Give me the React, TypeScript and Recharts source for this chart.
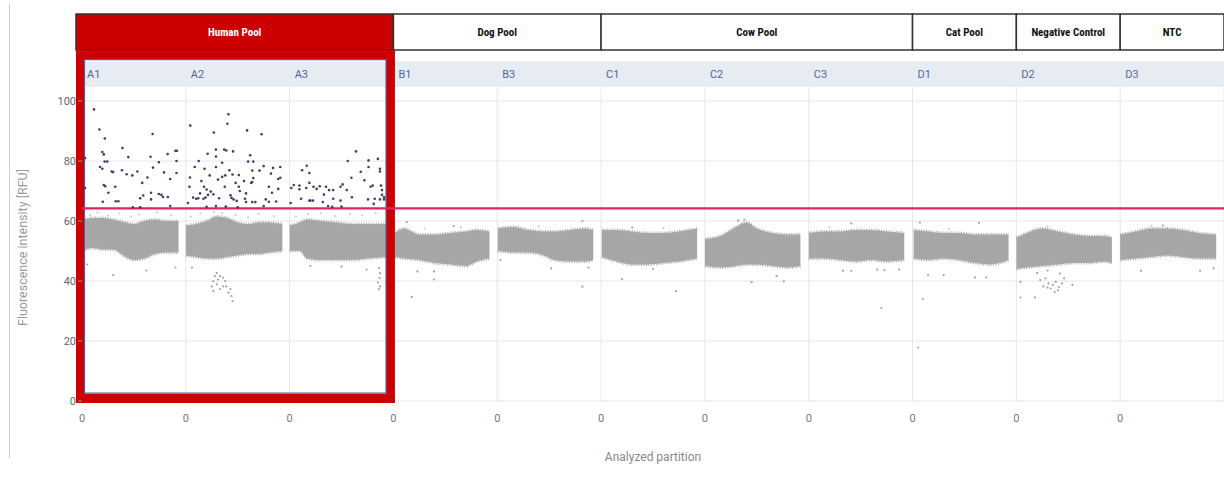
import React from 'react';
import {
  ComposedChart, Area, Scatter, XAxis, YAxis, CartesianGrid,
  ReferenceArea, ReferenceLine,
} from 'recharts';

// wells in plate order, one column per well
const WELLS = ['A1', 'A2', 'A3', 'B1', 'B3', 'C1', 'C2', 'C3', 'D1', 'D2', 'D3'];

const POOLS = [
  { name: 'Human Pool', from: 0, to: 3, selected: true },
  { name: 'Dog Pool', from: 3, to: 5 },
  { name: 'Cow Pool', from: 5, to: 8 },
  { name: 'Cat Pool', from: 8, to: 9 },
  { name: 'Negative Control', from: 9, to: 10 },
  { name: 'NTC', from: 10, to: 11 },
];

const THRESHOLD = 64.2;
const Y_TICKS = [0, 20, 40, 60, 80, 100];
const X_TICKS = [0, 1, 2, 3, 4, 5, 6, 7, 8, 9, 10];

// negative droplet cloud per well: [position in well, low RFU, high RFU]
const BAND_A1 = [[0.03, 50.5, 60.5], [0.1, 51, 61], [0.2, 50.5, 61], [0.3, 50.5, 60.5], [0.42, 48, 59.5], [0.5, 47, 59], [0.6, 47.5, 60], [0.7, 49, 60.5], [0.8, 49.5, 60], [0.93, 49.5, 60]];
const BAND_A2 = [[0.0, 48.5, 58.5], [0.1, 48, 59], [0.2, 47.5, 60], [0.3, 47.5, 61.5], [0.4, 48, 61], [0.5, 48.5, 59.5], [0.6, 49, 59], [0.7, 49, 59.5], [0.8, 49.5, 59.5], [0.93, 50, 59]];
const BAND_A3 = [[0.0, 50, 58.5], [0.1, 50, 59.5], [0.17, 47.5, 60.5], [0.3, 47, 60], [0.45, 47, 59.5], [0.6, 47, 59], [0.75, 47.5, 59], [0.93, 48, 59]];
const BAND_B1 = [[0.015, 48, 56], [0.1, 47.5, 57.5], [0.25, 47, 55.5], [0.4, 46, 55.5], [0.55, 45.5, 56], [0.7, 45, 56.5], [0.8, 46.5, 57], [0.925, 47.5, 56.5]];
const BAND_B3 = [[0.005, 50, 57.5], [0.15, 49.5, 58], [0.3, 49.5, 57], [0.45, 48.5, 56.5], [0.55, 47, 56.5], [0.7, 46.5, 57], [0.85, 46.5, 57.5], [0.925, 47, 57]];
const BAND_C1 = [[0.007, 48, 57], [0.15, 46.5, 57], [0.3, 45.5, 56.5], [0.45, 45.5, 56], [0.6, 46, 56], [0.75, 46.5, 56.5], [0.925, 47.5, 57.5]];
const BAND_C2 = [[0.0, 45, 54], [0.15, 44.5, 55], [0.3, 45, 58], [0.4, 45.5, 59.5], [0.5, 45.5, 57.5], [0.65, 45, 56], [0.8, 44.5, 55.5], [0.92, 45, 55.5]];
const BAND_C3 = [[0.0, 47.5, 56], [0.15, 47.5, 56.5], [0.3, 47, 56.5], [0.45, 46.5, 57], [0.6, 47, 57], [0.75, 46.5, 56.5], [0.92, 47, 56]];
const BAND_D1 = [[0.01, 47.5, 57], [0.15, 47, 56.5], [0.3, 47.5, 56], [0.45, 47, 56], [0.6, 46, 55.5], [0.75, 45.5, 55.5], [0.925, 47, 55.5]];
const BAND_D2 = [[0.0, 44, 54.5], [0.1, 44.5, 56], [0.25, 45, 57.5], [0.4, 45.5, 56.5], [0.55, 46, 55.5], [0.7, 46, 55], [0.85, 46.5, 55], [0.92, 46, 54.5]];
const BAND_D3 = [[0.0, 47, 55.5], [0.15, 47.5, 56.5], [0.3, 48, 57.5], [0.45, 48.5, 57.5], [0.6, 48, 57], [0.75, 47.5, 56], [0.925, 47.5, 55.5]];
const BANDS = [BAND_A1, BAND_A2, BAND_A3, BAND_B1, BAND_B3, BAND_C1, BAND_C2, BAND_C3, BAND_D1, BAND_D2, BAND_D3];

// positive droplets: [position in well, RFU]
const POS_A1 = [
  [0.116, 97.2], [0.167, 90.5], [0.22, 87.5], [0.68, 89], [0.39, 84.3], [0.196, 83], [0.21, 82.2],
  [0.446, 81.3], [0.825, 82.3], [0.9, 83.4], [0.915, 83.4], [0.66, 81.4], [0.218, 79.8], [0.244, 79.8],
  [0.74, 79.6], [0.91, 80], [0.173, 78], [0.196, 77.4], [0.684, 77.8], [0.286, 76.5], [0.3, 76.3],
  [0.385, 76.9], [0.43, 75.6], [0.485, 75.2], [0.533, 76.5], [0.79, 76.2], [0.91, 76], [0.85, 74],
  [0.63, 74.5], [0.58, 72.7], [0.21, 72], [0.224, 71.6], [0.32, 71.4], [0.254, 69.4], [0.665, 69.4],
  [0.74, 69], [0.765, 68.7], [0.59, 68.5], [0.56, 67.6], [0.78, 68], [0.827, 68], [0.665, 67.2],
  [0.2, 66.4], [0.325, 66.6], [0.35, 66.6], [0.85, 65], [0.49, 64.6], [0.56, 64.6], [0.03, 81], [0.03, 71],
];
const POS_A2 = [
  [0.41, 95.6], [0.4, 92.4], [0.043, 91.8], [0.27, 89.5], [0.59, 90.2], [0.73, 88.9], [0.29, 83.8],
  [0.37, 83.8], [0.39, 83.5], [0.455, 83.2], [0.21, 82.4], [0.62, 81.9], [0.29, 81.5], [0.124, 80],
  [0.35, 79.4], [0.6, 79.8], [0.65, 79.8], [0.086, 78], [0.29, 78], [0.75, 78.3], [0.84, 77.7],
  [0.91, 78], [0.18, 77.4], [0.42, 76.9], [0.64, 76.8], [0.71, 76.8], [0.23, 75.2], [0.35, 74.7],
  [0.38, 75.2], [0.45, 75.5], [0.04, 74.5], [0.51, 75.3], [0.82, 75.8], [0.65, 74.3], [0.64, 73],
  [0.63, 72.7], [0.31, 73.8], [0.15, 73.3], [0.56, 73.3], [0.91, 74.4], [0.89, 74], [0.48, 72.7],
  [0.035, 71.4], [0.175, 71.4], [0.2, 70.5], [0.375, 71.4], [0.51, 71.4], [0.52, 70], [0.8, 71.4],
  [0.89, 70.7], [0.24, 69.8], [0.83, 69.4], [0.137, 69.2], [0.214, 68.7], [0.265, 68.9], [0.43, 68.6],
  [0.44, 67.7], [0.58, 69.2], [0.07, 67.8], [0.1, 67.4], [0.12, 67.6], [0.17, 67.4], [0.19, 67.8],
  [0.32, 67.6], [0.46, 67.2], [0.49, 66.7], [0.57, 67.4], [0.58, 66.3], [0.64, 66.3], [0.67, 66.3],
  [0.77, 67.2], [0.8, 66.4], [0.87, 66.5], [0.02, 66], [0.29, 65], [0.2, 64.7], [0.385, 64.8],
  [0.5, 64.6], [0.75, 65],
];
const POS_A3 = [
  [0.64, 83.2], [0.56, 80], [0.76, 80.2], [0.85, 80.7], [0.76, 78], [0.165, 78.4], [0.12, 76.9],
  [0.87, 77.4], [0.87, 76.5], [0.685, 76.4], [0.19, 76], [0.595, 74.4], [0.72, 73.6], [0.19, 72.7],
  [0.04, 72], [0.016, 71], [0.094, 71.8], [0.094, 70.6], [0.16, 71], [0.23, 71.4], [0.26, 70.7],
  [0.29, 71.6], [0.35, 71.4], [0.38, 70.3], [0.42, 70.3], [0.49, 71.4], [0.51, 72.2], [0.55, 70.3],
  [0.78, 71.4], [0.8, 71.8], [0.88, 71.8], [0.89, 70.3], [0.89, 68.7], [0.33, 68.8], [0.11, 67.4],
  [0.19, 66.8], [0.2, 66.8], [0.225, 66.8], [0.32, 66.3], [0.42, 67.4], [0.49, 66.8], [0.6, 67.9],
  [0.755, 67.2], [0.82, 67.4], [0.87, 67.2], [0.91, 67.9], [0.91, 67.2], [0.81, 65.7], [0.01, 66],
  [0.37, 65], [0.5, 64.8], [0.41, 64.7],
];
const POSITIVES = [POS_A1, POS_A2, POS_A3];

// stray negative droplets outside the cloud: [well index, position in well, RFU]
const STRAYS = [
  [0, 0.05, 45.5], [0, 0.3, 42], [0, 0.9, 44.5], [0, 0.62, 43.5],
  [1, 0.297, 42.7], [1, 0.33, 41.6], [1, 0.36, 41.1], [1, 0.265, 40], [1, 0.31, 40.5], [1, 0.38, 40],
  [1, 0.25, 38.2], [1, 0.3, 38.9], [1, 0.36, 38.2], [1, 0.39, 38.2], [1, 0.265, 36.7], [1, 0.43, 37.3],
  [1, 0.44, 35], [1, 0.45, 33.3], [1, 0.33, 37.3], [1, 0.41, 36.1], [1, 0.28, 41.6], [1, 0.06, 44.5],
  [2, 0.86, 44.3], [2, 0.87, 42.6], [2, 0.865, 41], [2, 0.85, 39.5], [2, 0.87, 38.2], [2, 0.86, 37.3],
  [2, 0.74, 43.8], [2, 0.2, 45], [2, 0.5, 44.8],
  [3, 0.128, 59.6], [3, 0.176, 34.7], [3, 0.39, 40.5], [3, 0.39, 43.2], [3, 0.23, 43.2], [3, 0.58, 58.3],
  [4, 0.82, 60], [4, 0.82, 38.1], [4, 0.52, 44.2], [4, 0.03, 47], [4, 0.88, 44.5],
  [5, 0.2, 40.7], [5, 0.72, 36.6], [5, 0.3, 57.8], [5, 0.5, 44],
  [6, 0.45, 39.6], [6, 0.76, 39.9], [6, 0.69, 41.6], [6, 0.32, 60.2], [6, 0.38, 60.5],
  [7, 0.7, 31], [7, 0.66, 43.8], [7, 0.73, 43.6], [7, 0.87, 43.8], [7, 0.33, 43.4], [7, 0.41, 43.4], [7, 0.41, 59.2],
  [8, 0.054, 17.8], [8, 0.1, 34], [8, 0.15, 42], [8, 0.3, 42], [8, 0.6, 41.2], [8, 0.71, 41.2], [8, 0.07, 59.5], [8, 0.64, 59.4],
  [9, 0.2, 42.7], [9, 0.23, 40.3], [9, 0.28, 40.9], [9, 0.31, 39.2], [9, 0.35, 38.7], [9, 0.38, 39.7],
  [9, 0.41, 38], [9, 0.44, 39.2], [9, 0.4, 36.9], [9, 0.33, 37.5], [9, 0.26, 38.2], [9, 0.46, 40.9],
  [9, 0.54, 38.7], [9, 0.04, 39.7], [9, 0.04, 34.5], [9, 0.18, 34.5], [9, 0.3, 37.8], [9, 0.37, 36.3],
  [9, 0.3, 43.5], [9, 0.42, 42.5],
  [10, 0.2, 43.4], [10, 0.77, 43.4], [10, 0.9, 44.2], [10, 0.41, 58.5],
];

// sparse droplets between cloud and threshold: [well index, position in well, RFU]
const HAZE = [
  [0, 0.08, 62], [0, 0.15, 62.8], [0, 0.25, 61.8], [0, 0.36, 62.5], [0, 0.47, 61.5], [0, 0.55, 62.2], [0, 0.72, 62.8], [0, 0.86, 61.9],
  [1, 0.05, 61.5], [1, 0.14, 62.5], [1, 0.27, 63], [1, 0.35, 62.6], [1, 0.48, 62], [1, 0.6, 61.2], [1, 0.7, 62.4], [1, 0.85, 61.6],
  [2, 0.06, 61.5], [2, 0.18, 62.3], [2, 0.3, 62.6], [2, 0.44, 61.7], [2, 0.58, 62.4], [2, 0.7, 61.8], [2, 0.83, 62.6],
  [3, 0.3, 57.5], [3, 0.65, 57.8], [4, 0.4, 58.2], [5, 0.6, 57.6], [7, 0.2, 57.8], [8, 0.35, 57.4], [9, 0.3, 58.2], [10, 0.3, 58.4],
];

const bandData: { x: number; band: number[] | null }[] = [];
BANDS.forEach((band, i) => {
  band.forEach(([t, lo, hi]) => bandData.push({ x: i + t, band: [lo, hi] }));
  bandData.push({ x: i + 0.96, band: null });
});

const positiveData = POSITIVES.flatMap((pts, i) => pts.map(([t, v]) => ({ x: i + t, y: v })));
const strayData = STRAYS.map(([i, t, v]) => ({ x: i + t, y: v }));
const hazeData = HAZE.map(([i, t, v]) => ({ x: i + t, y: v }));

const dot = (r: number, fill: string) => (p: any) => <circle cx={p.cx} cy={p.cy} r={r} fill={fill} />;

const headerFont = '"Liberation Sans Narrow", "Roboto Condensed", Roboto, sans-serif';

export default function App() {
  return (
    <div style={{ position: 'absolute', left: 0, top: 0, width: 1224, height: 483, background: '#fff', fontFamily: 'Roboto, sans-serif' }}>
      <div style={{ position: 'absolute', left: 9, top: 4, width: 1, height: 454, background: '#cfcfcf' }} />
      <ComposedChart width={1224} height={483} data={bandData} margin={{ top: 62, right: 0, bottom: 22, left: 10 }}>
        <CartesianGrid stroke="#e4e6ef" />
        <XAxis
          type="number"
          dataKey="x"
          domain={[0, 11]}
          ticks={X_TICKS}
          tickFormatter={() => '0'}
          axisLine={false}
          tickLine={false}
          tickMargin={7}
          height={60}
          tick={{ fontSize: 11, fill: '#777' }}
          label={{ value: 'Analyzed partition', position: 'insideBottom', offset: 0, fill: '#888', fontSize: 12 }}
        />
        <YAxis
          type="number"
          domain={[0, 113]}
          ticks={Y_TICKS}
          width={72}
          axisLine={false}
          tickLine={{ stroke: '#999' }}
          tickSize={4}
          tick={{ fontSize: 11, fill: '#666' }}
          label={{
            value: 'Fluorescence intensity [RFU]',
            content: ({ viewBox }: any) => {
              const cx = viewBox.x + 12;
              const cy = viewBox.y + viewBox.height / 2 + 16;
              return (
                <text x={cx} y={cy} transform={`rotate(-90, ${cx}, ${cy})`} textAnchor="middle" dominantBaseline="central" fill="#9a9a9a" fontSize={12.5}>
                  Fluorescence intensity [RFU]
                </text>
              );
            },
          }}
        />

        {WELLS.map((w, i) => (
          <ReferenceArea
            key={w}
            x1={i}
            x2={i + 1}
            y1={104.7}
            y2={113}
            fill="#e7ecf3"
            fillOpacity={1}
            stroke="none"
            label={{ value: w, position: 'insideLeft', offset: 5, fill: '#56679a', fontSize: 11 }}
          />
        ))}

        <Area
          type="monotone"
          dataKey="band"
          stroke="#acacac"
          strokeWidth={3}
          strokeDasharray="1 1.5"
          fill="#a6a6a6"
          fillOpacity={1}
          dot={false}
          activeDot={false}
          connectNulls={false}
          isAnimationActive={false}
        />
        <Scatter data={hazeData} dataKey="y" shape={dot(1, '#c4c4c4')} isAnimationActive={false} />
        <Scatter data={strayData} dataKey="y" shape={dot(1.1, '#a2a2a2')} isAnimationActive={false} />
        <Scatter data={positiveData} dataKey="y" shape={dot(1.3, '#3d3f66')} isAnimationActive={false} />

        <ReferenceLine y={THRESHOLD} stroke="#e0245e" strokeWidth={2.2} ifOverflow="visible" />

        {POOLS.map((p) => (
          <ReferenceArea
            key={p.name}
            x1={p.from === 0 ? -0.058 : p.from}
            x2={p.to}
            y1={117}
            y2={129}
            ifOverflow="visible"
            fill={p.selected ? '#cc0000' : '#ffffff'}
            fillOpacity={1}
            stroke="#333"
            strokeWidth={1.5}
            label={{
              value: p.name,
              position: 'center',
              fill: p.selected ? '#ffffff' : '#111',
              fontSize: 11,
              fontWeight: 'bold',
              fontFamily: headerFont,
            }}
          />
        ))}

        {POOLS.filter((p) => p.selected).map((p) => (
          <ReferenceArea
            key={p.name + '-frame'}
            x1={p.from - 0.0145}
            x2={p.to - 0.029}
            y1={0.83}
            y2={115.5}
            ifOverflow="visible"
            fill="none"
            stroke="#cc0000"
            strokeWidth={9}
          />
        ))}
        {POOLS.filter((p) => p.selected).map((p) => (
          <ReferenceArea
            key={p.name + '-inner'}
            x1={p.from + 0.024}
            x2={p.to - 0.071}
            y1={2.6}
            y2={113.8}
            ifOverflow="visible"
            fill="none"
            stroke="#4f5f9f"
            strokeWidth={1.2}
          />
        ))}
      </ComposedChart>
    </div>
  );
}
